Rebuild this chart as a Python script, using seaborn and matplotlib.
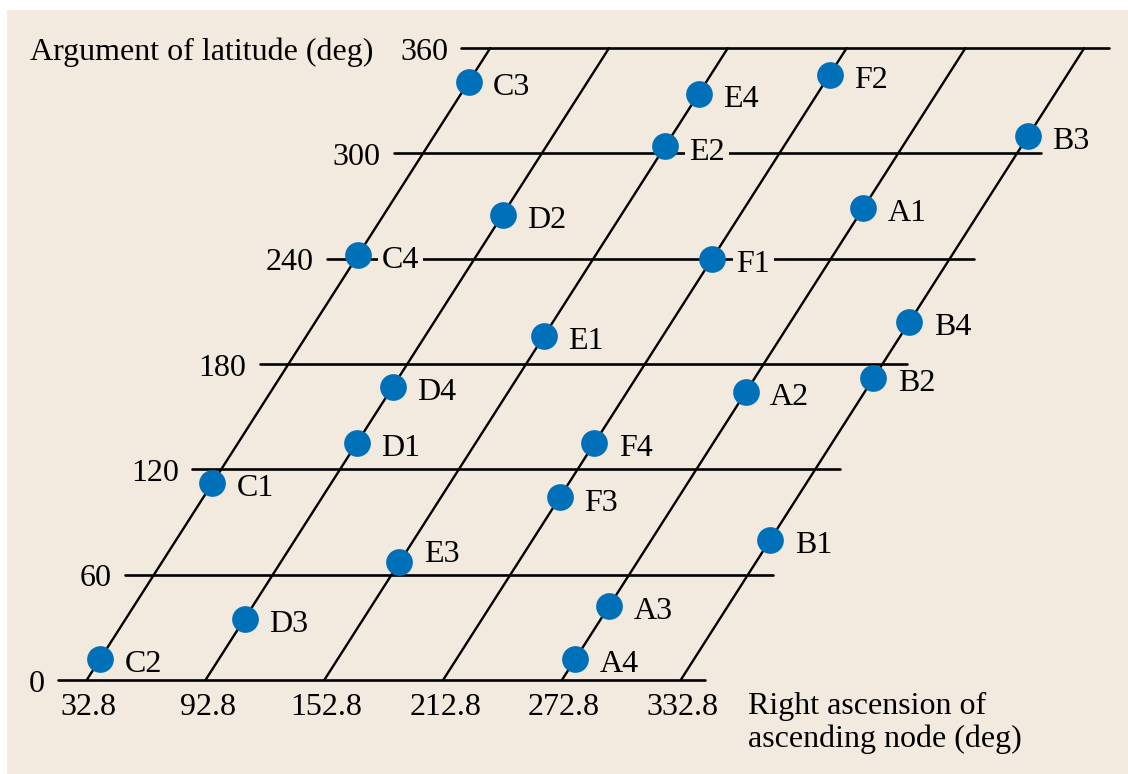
import matplotlib
matplotlib.use("Agg")
import numpy as np
import pandas as pd
import matplotlib.pyplot as plt
from matplotlib.patches import Rectangle
import seaborn as sns

# orbital planes (right ascension of ascending node, deg)
plane_names = ["C", "D", "E", "F", "A", "B"]
raan_ticks = [32.8, 92.8, 152.8, 212.8, 272.8, 332.8]
# argument of latitude grid
u_ticks = [0, 60, 120, 180, 240, 300, 360]

# satellites and their argument of latitude (deg)
sat_labels = ["A1", "A2", "A3", "A4",
              "B1", "B2", "B3", "B4",
              "C1", "C2", "C3", "C4",
              "D1", "D2", "D3", "D4",
              "E1", "E2", "E3", "E4",
              "F1", "F2", "F3", "F4"]
sat_u = [269, 164, 42, 12,
         80, 172, 310, 204,
         112, 12, 341, 242,
         135, 265, 35, 167,
         196, 304, 67, 334,
         240, 345, 104, 135]

# labels sitting on a grid line get a background box (gap in the line)
gap_labels = ["C4", "E2", "F1"]
# labels lifted so they clear a grid line
raised_labels = ["E3"]

BG = "#F2EADF"
BLUE = "#0071B8"
FS = 23
SKEW = 0.566  # shift in RA per deg of latitude argument

df = pd.DataFrame({"sat": sat_labels, "u": sat_u})
df["raan"] = df["sat"].str[0].map(dict(zip(plane_names, raan_ticks)))
df["x"] = df["raan"] + SKEW * df["u"]

sns.set_style("white")
plt.rcParams["font.family"] = ["Liberation Serif", "DejaVu Serif"]
plt.rcParams["text.color"] = "black"

fig = plt.figure(figsize=(11.28, 7.74), dpi=100, facecolor="white")
fig.add_artist(Rectangle((7 / 1128, 0), 1, 764 / 774, transform=fig.transFigure,
                         facecolor=BG, edgecolor="none", zorder=-10))
ax = fig.add_axes([0, 0, 1, 1])
ax.set_axis_off()

# horizontal grid lines + their labels
for u in u_ticks:
    x0 = raan_ticks[0] - 14.6 + SKEW * u
    x1 = raan_ticks[-1] + 12.4 + SKEW * u
    ax.plot([x0, x1], [u, u], color="black", lw=1.9, zorder=1)
    ax.annotate(str(u), xy=(x0, u), xytext=(-9.5, -8.3), textcoords="offset points",
                ha="right", va="baseline", fontsize=FS)

# slanted plane lines + their labels
for r in raan_ticks:
    ax.plot([r, r + SKEW * 360], [0, 360], color="black", lw=1.7, zorder=1)
    ax.annotate(f"{r:.1f}", xy=(r, 0), xytext=(1.5, -25.2), textcoords="offset points",
                ha="center", va="baseline", fontsize=FS)

sns.scatterplot(data=df, x="x", y="u", color=BLUE, s=370, linewidth=0,
                ax=ax, zorder=3, legend=False)

for _, row in df.iterrows():
    box = None
    if row["sat"] in gap_labels:
        box = dict(boxstyle="square,pad=0.12", facecolor=BG, edgecolor="none")
    dy = 0 if row["sat"] in raised_labels else -9.4
    ax.annotate(row["sat"], xy=(row["x"], row["u"]), xytext=(17.5, dy),
                textcoords="offset points", ha="left", va="baseline",
                fontsize=FS, bbox=box, zorder=4)

ax.set_xlim(-11.0, 558.7)
ax.set_ylim(-53.56, 387.46)

fig.text(30 / 1128, 1 - 60 / 774, "Argument of latitude (deg)", fontsize=FS,
         ha="left", va="baseline")
fig.text(748 / 1128, 1 - 714 / 774, "Right ascension of", fontsize=FS,
         ha="left", va="baseline")
fig.text(748 / 1128, 1 - 746.7 / 774, "ascending node (deg)", fontsize=FS,
         ha="left", va="baseline")

plt.savefig("out.png", dpi=100, facecolor=fig.get_facecolor())
